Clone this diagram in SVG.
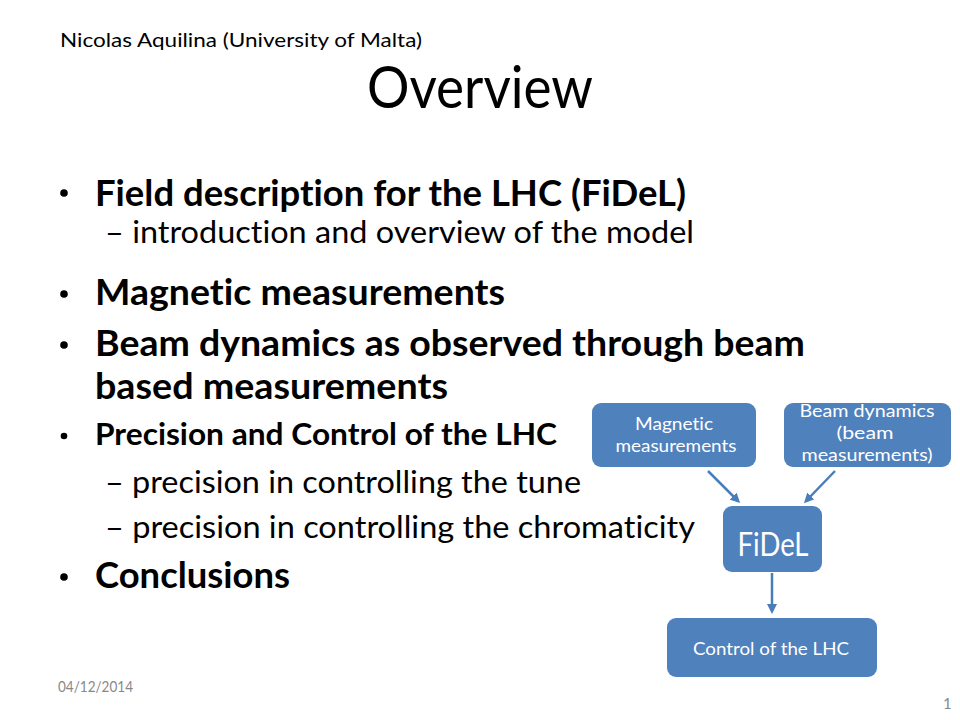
<svg xmlns="http://www.w3.org/2000/svg" width="960" height="720" viewBox="0 0 960 720">
<defs>
<style>
text{font-family:Lato,"Open Sans","Liberation Sans",sans-serif;fill:#000;font-variant-ligatures:none;font-feature-settings:"liga" 0}
.b{font-weight:bold}
.node rect{fill:#4F81BD}
.node text{fill:#fff;text-anchor:middle}
.conn line{stroke:#4A7EBB;stroke-width:2.5;fill:none}
.ft{fill:#898989}
</style>
<marker id="ah" markerWidth="10" markerHeight="10" refX="7" refY="5" orient="auto" markerUnits="userSpaceOnUse" viewBox="0 0 10 10">
<path d="M0,0 L10,5 L0,10 z" fill="#4A7EBB"/>
</marker>
</defs>
<rect width="960" height="720" fill="#fff"/>
<text x="60" y="47" font-size="19" textLength="362" lengthAdjust="spacingAndGlyphs">Nicolas Aquilina (University of Malta)</text>
<text x="367" y="108" font-size="58" textLength="226" lengthAdjust="spacingAndGlyphs">Overview</text>
<g id="bullets">
<circle cx="64" cy="193" r="3.8"/>
<text class="b" x="95" y="206" font-size="37" textLength="591" lengthAdjust="spacingAndGlyphs">Field description for the LHC (FiDeL)</text>
<text x="105" y="243" font-size="31" textLength="589" lengthAdjust="spacingAndGlyphs">– introduction and overview of the model</text>
<circle cx="64" cy="294" r="3.8"/>
<text class="b" x="95" y="305" font-size="37" textLength="410" lengthAdjust="spacingAndGlyphs">Magnetic measurements</text>
<circle cx="64" cy="345" r="3.8"/>
<text class="b" x="95" y="356" font-size="37" textLength="710" lengthAdjust="spacingAndGlyphs">Beam dynamics as observed through beam</text>
<text class="b" x="95" y="399" font-size="37" textLength="353" lengthAdjust="spacingAndGlyphs">based measurements</text>
<circle cx="64" cy="436" r="3.3"/>
<text class="b" x="95" y="445" font-size="31" textLength="462" lengthAdjust="spacingAndGlyphs">Precision and Control of the LHC</text>
<text x="105" y="493" font-size="31" textLength="476" lengthAdjust="spacingAndGlyphs">– precision in controlling the tune</text>
<text x="105" y="538" font-size="31" textLength="590" lengthAdjust="spacingAndGlyphs">– precision in controlling the chromaticity</text>
<circle cx="64" cy="577" r="3.8"/>
<text class="b" x="95" y="588" font-size="37" textLength="195" lengthAdjust="spacingAndGlyphs">Conclusions</text>
</g>
<g class="conn" id="connectors">
<line x1="708" y1="471" x2="738" y2="501" marker-end="url(#ah)"/>
<line x1="835" y1="471" x2="806" y2="501" marker-end="url(#ah)"/>
<line x1="772" y1="573" x2="772" y2="611" marker-end="url(#ah)"/>
</g>
<g class="node" id="n-magnetic">
<rect x="592" y="403" width="164" height="64" rx="9"/>
<text x="674" y="430" font-size="17" textLength="78" lengthAdjust="spacingAndGlyphs">Magnetic</text>
<text x="676" y="452" font-size="17" textLength="121" lengthAdjust="spacingAndGlyphs">measurements</text>
</g>
<g class="node" id="n-beam">
<rect x="784" y="403" width="167" height="64" rx="9"/>
<text x="867" y="417" font-size="17" textLength="135" lengthAdjust="spacingAndGlyphs">Beam dynamics</text>
<text x="865" y="439" font-size="17" textLength="57" lengthAdjust="spacingAndGlyphs">(beam</text>
<text x="867" y="461" font-size="17" textLength="131" lengthAdjust="spacingAndGlyphs">measurements)</text>
</g>
<g class="node" id="n-fidel">
<rect x="723" y="506" width="99" height="66" rx="9"/>
<text x="773" y="556" font-size="32" textLength="71" lengthAdjust="spacingAndGlyphs">FiDeL</text>
</g>
<g class="node" id="n-control">
<rect x="667" y="618" width="210" height="59" rx="9"/>
<text x="771" y="655" font-size="18" textLength="156" lengthAdjust="spacingAndGlyphs">Control of the LHC</text>
</g>
<text class="ft" x="58" y="692" font-size="15" textLength="75" lengthAdjust="spacingAndGlyphs">04/12/2014</text>
<text class="ft" x="943" y="709" font-size="15">1</text>
</svg>
